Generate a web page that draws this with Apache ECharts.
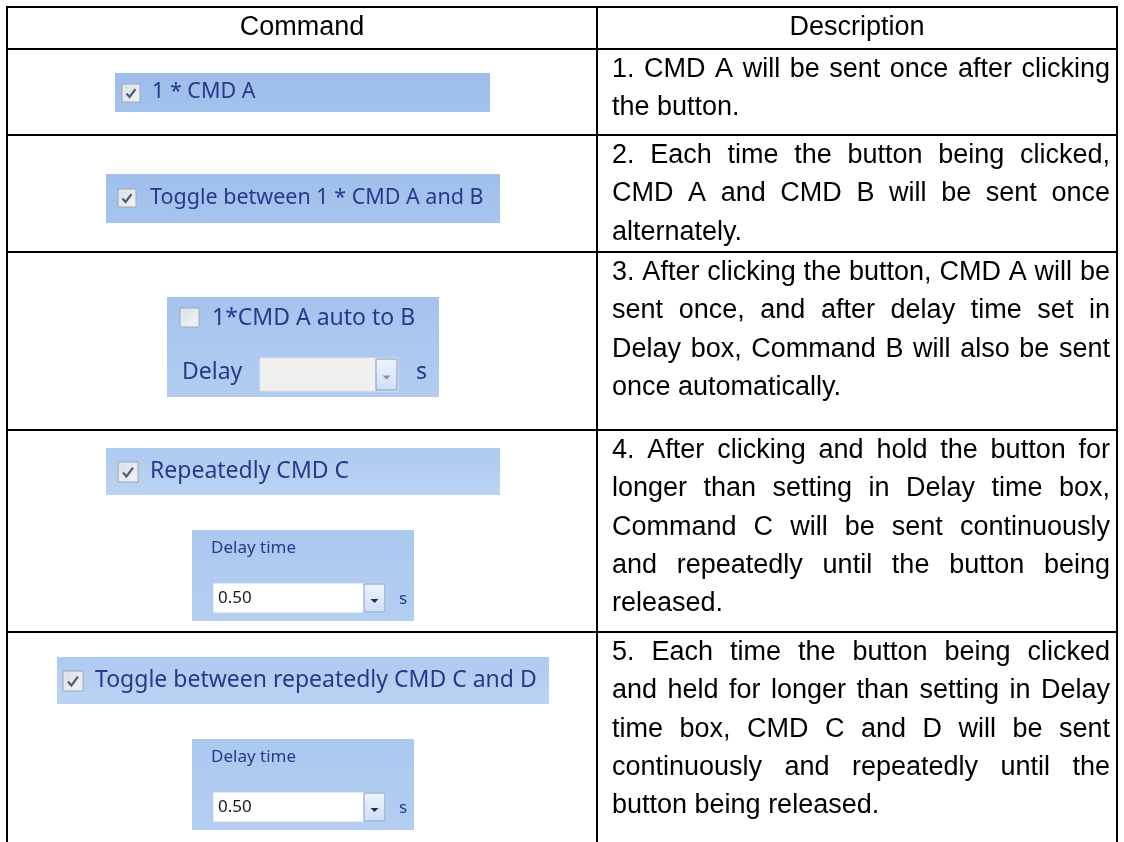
<!DOCTYPE html>
<html><head><meta charset="utf-8">
<script src="https://cdn.jsdelivr.net/npm/echarts@6/dist/echarts.min.js"></script>
<style>html,body{margin:0;padding:0;background:#fff}#c{width:1124px;height:842px}</style>
</head><body><div id="c"></div>
<script>
// ---------- data ----------
const headers = ['Command', 'Description'];
const commandLabels = ['1 * CMD A', 'Toggle between 1 * CMD A and B', '1*CMD A auto to B', 'Repeatedly CMD C', 'Toggle between repeatedly CMD C and D'];
const commandChecked = [true, true, false, true, true];
const delayLabels = ['', '', 'Delay', 'Delay time', 'Delay time'];
const delayValues = ['', '', '', '0.50', '0.50'];
const unitLabel = 's';
const descriptions = [
  ['1. CMD A will be sent once after clicking', 'the button.'],
  ['2. Each time the button being clicked,', 'CMD A and CMD B will be sent once', 'alternately.'],
  ['3. After clicking the button, CMD A will be', 'sent once, and after delay time set in', 'Delay box, Command B will also be sent', 'once automatically.'],
  ['4. After clicking and hold the button for', 'longer than setting in Delay time box,', 'Command C will be sent continuously', 'and repeatedly until the button being', 'released.'],
  ['5. Each time the button being clicked', 'and held for longer than setting in Delay', 'time box, CMD C and D will be sent', 'continuously and repeatedly until the', 'button being released.']
];

// ---------- layout ----------
const W = 1124, H = 842;
const tableL = 7, tableR = 1117, colDiv = 597;
const rowEdges = [7, 49, 135, 252, 430, 632, 900];
const lineH = 38.3, firstLine = 20.5;
const descL = 612, descR = 1110;
const descFont = '27px "Liberation Sans", Arial, sans-serif';
const uiFontS = '21.5px "Noto Sans", sans-serif';
const uiFontL = '23px "Noto Sans", sans-serif';
const uiSmall = '17px "Noto Sans", sans-serif';
const uiText = '#27398a';

const mctx = document.createElement('canvas').getContext('2d');
function tw(s, f) { mctx.font = f; return mctx.measureText(s).width; }

const chart = echarts.init(document.getElementById('c'), null, {renderer: 'canvas'});

function checkbox(P, x, y, on, s) {
  const a = P(x, y);
  const ch = [
    {type: 'rect', shape: {x: a[0], y: a[1], width: s, height: s}, style: {fill: new echarts.graphic.LinearGradient(0,0,1,1,[{offset:0,color:'#d6dbe2'},{offset:1,color:'#f6f7f9'}]), stroke: '#9ca7b8', lineWidth: 1}},
    {type: 'rect', shape: {x: a[0]+2, y: a[1]+2, width: s-4, height: s-4}, style: {fill: 'none', stroke: '#e8ebef', lineWidth: 1}}
  ];
  if (on) ch.push({type: 'polyline', shape: {points: [[a[0]+s*0.25, a[1]+s*0.53], [a[0]+s*0.42, a[1]+s*0.72], [a[0]+s*0.75, a[1]+s*0.28]]}, style: {stroke: '#4b5c7c', lineWidth: 2.2, fill: 'none'}});
  return ch;
}
function bar(P, x1, y1, x2, y2, c1, c2) {
  const a = P(x1, y1), b = P(x2, y2);
  return {type: 'rect', shape: {x: a[0], y: a[1], width: b[0]-a[0], height: b[1]-a[1]},
    style: {fill: new echarts.graphic.LinearGradient(0,0,0,1,[{offset:0,color:c1},{offset:1,color:c2}])}};
}
function label(P, x, y, s, font, color) {
  const a = P(x, y);
  return {type: 'text', style: {text: s, x: a[0], y: a[1], font: font, fill: color || uiText, align: 'left', verticalAlign: 'middle'}};
}
function combo(P, x1, y1, x2, y2, value, enabled) {
  const a = P(x1, y1), b = P(x2, y2);
  const bw = 21;
  const my = (a[1] + b[1]) / 2;
  const ch = [
    {type: 'rect', shape: {x: a[0], y: a[1], width: b[0]-a[0], height: b[1]-a[1]}, style: {fill: enabled ? '#ffffff' : '#f0f0f0', stroke: enabled ? '#c3d1e6' : '#dde2e8', lineWidth: 1}},
    {type: 'rect', shape: {x: b[0]-bw-1, y: a[1]+1, width: bw, height: b[1]-a[1]-2}, style: {fill: new echarts.graphic.LinearGradient(0,0,0,1,[{offset:0,color:'#eef4fc'},{offset:1,color:'#cddff5'}]), stroke: '#7d98c3', lineWidth: 1}},
    {type: 'polygon', shape: {points: [[b[0]-bw/2-5, my+1], [b[0]-bw/2+3, my+1], [b[0]-bw/2-1, my+5]]}, style: {fill: enabled ? '#1d2d5c' : '#8a8f98'}}
  ];
  if (value) ch.push(label(P, x1 + 5, (y1 + y2) / 2, value, uiSmall, '#1a1a1a'));
  return ch;
}

function commandCell(P, i) {
  let ch = [];
  if (i === 0) {
    ch.push(bar(P, 115, 73, 490, 112, '#9ebeea', '#a2c1ec'));
    ch = ch.concat(checkbox(P, 122, 84, commandChecked[i], 18));
    ch.push(label(P, 152, 92, commandLabels[i], uiFontS));
  } else if (i === 1) {
    ch.push(bar(P, 106, 174, 500, 223, '#a0bfeb', '#a6c4ee'));
    ch = ch.concat(checkbox(P, 118, 189, commandChecked[i], 18));
    ch.push(label(P, 150, 198, commandLabels[i], uiFontS));
  } else if (i === 2) {
    ch.push(bar(P, 167, 297, 439, 397, '#a4c3ed', '#b3cdf1'));
    ch = ch.concat(checkbox(P, 180, 308, commandChecked[i], 19));
    ch.push(label(P, 212, 318, commandLabels[i], uiFontL));
    ch.push(label(P, 182, 372, delayLabels[i], uiFontL));
    ch = ch.concat(combo(P, 260, 358, 398, 391, delayValues[i], false));
    ch.push(label(P, 416, 372, unitLabel, uiFontL));
  } else {
    const by = i === 3 ? 448 : 657;
    const bx1 = i === 3 ? 106 : 57, bx2 = i === 3 ? 500 : 549;
    const cx = i === 3 ? 118 : 63, tx = i === 3 ? 150 : 95;
    ch.push(bar(P, bx1, by, bx2, by + 47, '#aecaf0', '#bcd3f3'));
    ch = ch.concat(checkbox(P, cx, by + 14, commandChecked[i], 20));
    ch.push(label(P, tx, by + 23, commandLabels[i], uiFontL));
    const dy = by + 82;
    ch.push(bar(P, 192, dy, 414, dy + 91, '#abc8ef', '#b3cef1'));
    ch.push(label(P, 211, dy + 18, delayLabels[i], uiSmall));
    ch = ch.concat(combo(P, 213, dy + 53, 386, dy + 83, delayValues[i], true));
    ch.push(label(P, 399, dy + 69, unitLabel, uiSmall));
  }
  return ch;
}

function descCell(P, i, top) {
  const lines = descriptions[i];
  const n = lines.length;
  const y0 = top + firstLine;
  const ch = [];
  const spaceW = tw(' ', descFont);
  lines.forEach((ln, k) => {
    const y = y0 + k * lineH;
    const words = ln.split(' ');
    const ws = words.map(w => tw(w, descFont));
    const sum = ws.reduce((a, b) => a + b, 0);
    const gap = (k < n - 1 && words.length > 1) ? (descR - descL - sum) / (words.length - 1) : spaceW;
    let x = descL;
    words.forEach((w, j) => {
      const a = P(x, y);
      ch.push({type: 'text', style: {text: w, x: a[0], y: a[1], font: descFont, fill: '#000', align: 'left', verticalAlign: 'middle'}});
      x += ws[j] + gap;
    });
  });
  return ch;
}

function renderRow(params, api) {
  const r = api.value(0);
  const P = (x, y) => api.coord([x, y]);
  const top = rowEdges[r], bottom = rowEdges[r + 1];
  const ch = [];
  const L = (x1, y1, x2, y2) => {
    const a = P(x1, y1), b = P(x2, y2);
    ch.push({type: 'line', shape: {x1: a[0], y1: a[1], x2: b[0], y2: b[1]}, style: {stroke: '#000', lineWidth: 2}});
  };
  L(tableL - 1, top, tableR + 1, top);
  L(tableL, top, tableL, bottom);
  L(colDiv, top, colDiv, bottom);
  L(tableR, top, tableR, bottom);
  if (r === 0) {
    const c1 = P((tableL + colDiv) / 2, (top + bottom) / 2), c2 = P((colDiv + tableR) / 2, (top + bottom) / 2);
    ch.push({type: 'text', style: {text: headers[0], x: c1[0], y: c1[1], font: descFont, fill: '#000', align: 'center', verticalAlign: 'middle'}});
    ch.push({type: 'text', style: {text: headers[1], x: c2[0], y: c2[1], font: descFont, fill: '#000', align: 'center', verticalAlign: 'middle'}});
  } else {
    commandCell(P, r - 1).forEach(c => ch.push(c));
    descCell(P, r - 1, top).forEach(c => ch.push(c));
  }
  return {type: 'group', children: ch};
}

const rowData = [0, 1, 2, 3, 4, 5].map(r => [r, rowEdges[r]]);

chart.setOption({
  animation: false,
  backgroundColor: '#ffffff',
  grid: {left: 0, right: 0, top: 0, bottom: 0},
  xAxis: {type: 'value', min: 0, max: W, show: false},
  yAxis: {type: 'value', min: 0, max: H, inverse: true, show: false},
  series: [{
    type: 'custom',
    renderItem: renderRow,
    data: rowData,
    encode: {x: -1, y: 1},
    clip: true,
    silent: true
  }]
});
</script>
</body></html>
